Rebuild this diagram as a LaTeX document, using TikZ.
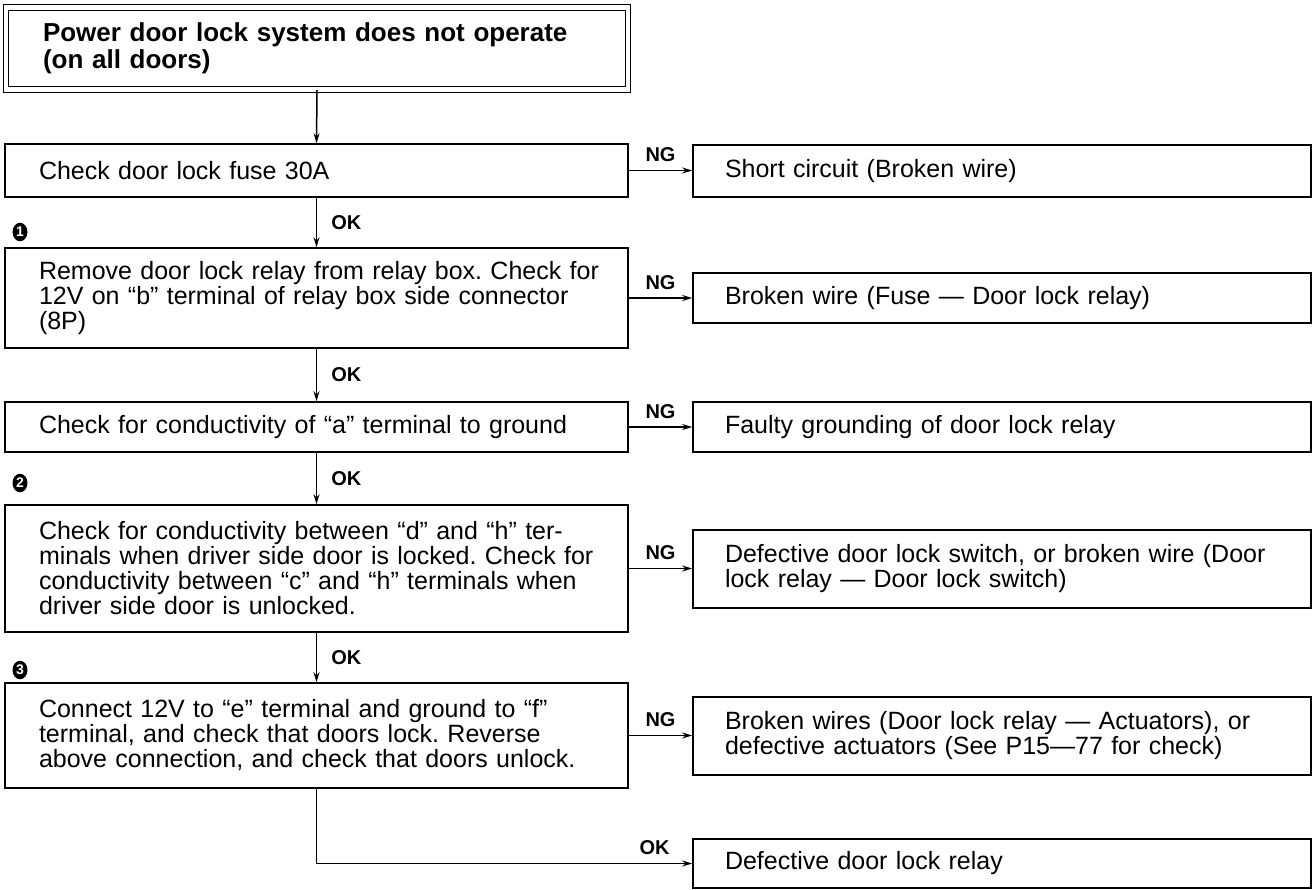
\documentclass[tikz,border=0pt]{standalone}
\usepackage{fontspec}
\setmainfont{Liberation Sans}
\frenchspacing
\usetikzlibrary{arrows.meta,shapes.geometric,calc}
\newcommand\oneline[1]{\mbox{#1}}
\begin{document}
\begin{tikzpicture}[x=1pt,y=-1pt,
  box/.style={draw, line width=1.6pt, rectangle, inner ysep=0pt, align=left,
    font=\fontsize{25}{25}\selectfont},
  lbox/.style={box, inner xsep=34pt, minimum width=623pt, text width=555pt},
  rbox/.style={box, inner xsep=32pt, minimum width=618pt, text width=554pt},
  titlebox/.style={draw, line width=1.3pt, double, double distance=4.2pt, rectangle,
    inner xsep=37pt, inner ysep=0pt, align=left, minimum width=622pt, minimum height=82pt,
    text width=548pt, font=\fontsize{26}{27}\selectfont\bfseries},
  arr/.style={line width=1.5pt, -{Stealth[length=10pt,width=6pt]}},
  lbl/.style={font=\fontsize{20}{20}\selectfont\bfseries, inner sep=0pt},
  num/.style={ellipse, fill=black, inner sep=0pt, minimum width=15pt, minimum height=18.5pt,
    text=white, font=\fontsize{14}{14}\selectfont\bfseries}]

\useasboundingbox (0,0) rectangle (1314,889);

\node[titlebox] (T) at (317,48.5) {Power door lock system does not operate\\(on all doors)};

\node[lbox, minimum height=53pt] (B1) at (316.5,170.5) {Check door lock fuse 30A};
\node[lbox, minimum height=100pt] (B2) at (316.5,298) {\oneline{Remove door lock relay from relay box. Check for}\\\oneline{12V on “b” terminal of relay box side connector}\\(8P)};
\node[lbox, minimum height=50pt] (B3) at (316.5,427) {\oneline{Check for conductivity of “a” terminal to ground}};
\node[lbox, minimum height=127pt] (B4) at (316.5,568.5) {\oneline{Check for conductivity between “d” and “h” ter-}\\\oneline{minals when driver side door is locked. Check for}\\\oneline{conductivity between “c” and “h” terminals when}\\driver side door is unlocked.};
\node[lbox, minimum height=105pt] (B5) at (316.5,735.5) {\oneline{Connect 12V to “e” terminal and ground to “f”}\\\oneline{terminal, and check that doors lock. Reverse}\\\oneline{above connection, and check that doors unlock.}};

\node[rbox, minimum height=52pt] (N1) at (1002,171) {Short circuit (Broken wire)};
\node[rbox, minimum height=50pt] (N2) at (1002,298) {Broken wire (Fuse — Door lock relay)};
\node[rbox, minimum height=50pt] (N3) at (1002,427) {Faulty grounding of door lock relay};
\node[rbox, minimum height=78pt] (N4) at (1002,569) {\oneline{Defective door lock switch, or broken wire (Door}\\lock relay — Door lock switch)};
\node[rbox, minimum height=78pt] (N5) at (1002,736) {\oneline{Broken wires (Door lock relay — Actuators), or}\\\oneline{defective actuators (See P15—77 for check)}};
\node[rbox, minimum height=49pt] (N6) at (1002,863.5) {Defective door lock relay};

\node[num] (c1) at (20,232) {1};
\node[num] (c2) at (20,483) {2};
\node[num] (c3) at (20,670) {3};

\draw[arr] (T.south) -- (B1.north);
\draw[arr] (B1.south) -- node[lbl, right=14pt]{OK} (B2.north);
\draw[arr] (B2.south) -- node[lbl, right=14pt]{OK} (B3.north);
\draw[arr] (B3.south) -- node[lbl, right=14pt]{OK} (B4.north);
\draw[arr] (B4.south) -- node[lbl, right=14pt]{OK} (B5.north);

\draw[arr] (B1.east) -- node[lbl, above=8pt]{NG} (B1.east -| N1.west);
\draw[arr] (B2.east) -- node[lbl, above=8pt]{NG} (B2.east -| N2.west);
\draw[arr] (B3.east) -- node[lbl, above=8pt]{NG} (B3.east -| N3.west);
\draw[arr] (B4.east) -- node[lbl, above=8pt]{NG} (B4.east -| N4.west);
\draw[arr] (B5.east) -- node[lbl, above=8pt]{NG} (B5.east -| N5.west);
\draw[arr] (B5.south) |- node[lbl, pos=0.95, above=8pt]{OK} (N6.west);
\end{tikzpicture}
\end{document}
